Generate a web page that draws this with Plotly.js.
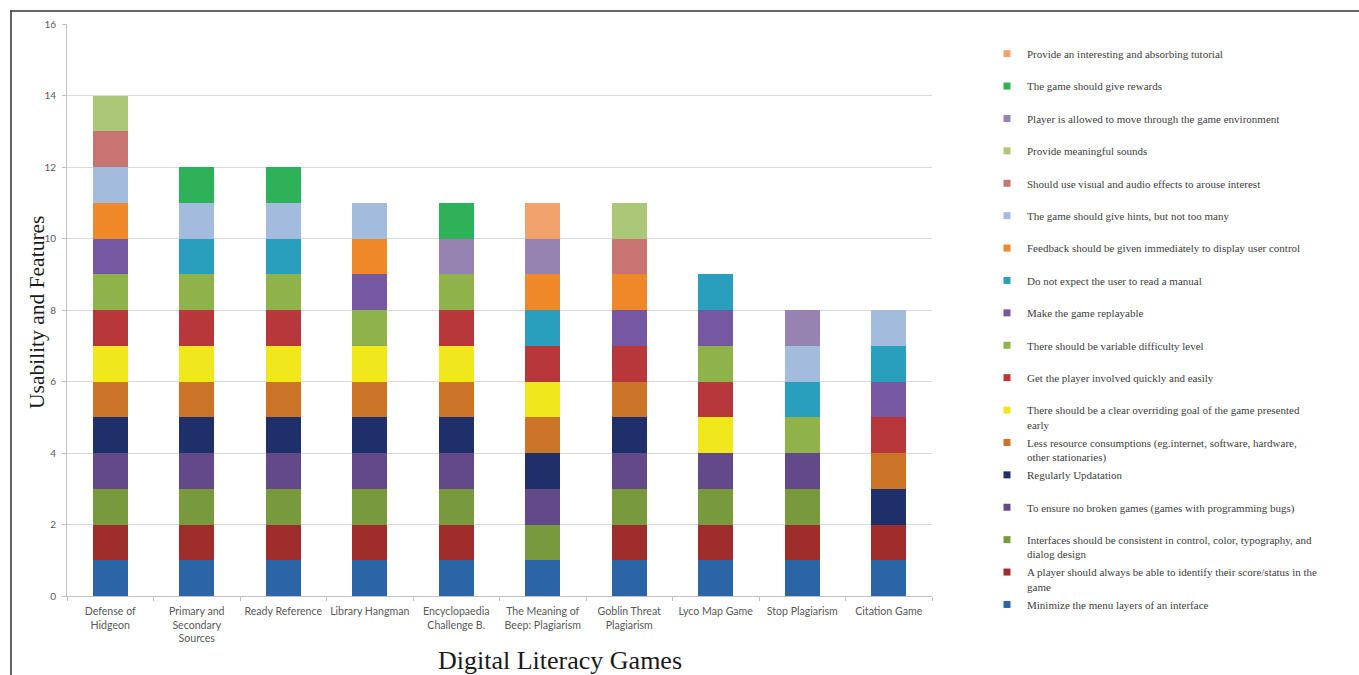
<!DOCTYPE html>
<html>
<head>
<meta charset="utf-8">
<script src="https://cdn.plot.ly/plotly-3.0.1.min.js"></script>
<style>html,body{margin:0;padding:0;background:#fff;}#chart{width:1359px;height:675px;}</style>
</head>
<body>
<div id="chart"></div>
<script>
const games = ["Defense of<br>Hidgeon", "Primary and<br>Secondary<br>Sources", "Ready Reference", "Library Hangman",
  "Encyclopaedia<br>Challenge B.", "The Meaning of<br>Beep: Plagiarism", "Goblin Threat<br>Plagiarism",
  "Lyco Map Game", "Stop Plagiarism", "Citation Game"];

const seriesNames = [
  "Minimize the menu layers of an interface",
  "A player should always be able to identify their score/status in the<br>game",
  "Interfaces should be consistent in control, color, typography, and<br>dialog design",
  "To ensure no broken games (games with programming bugs)",
  "Regularly Updatation",
  "Less resource consumptions (eg.internet, software, hardware,<br>other stationaries)",
  "There should be a clear overriding goal of the game presented<br>early",
  "Get the player involved quickly and easily",
  "There should be variable difficulty level",
  "Make the game replayable",
  "Do not expect the user to read a manual",
  "Feedback should be given immediately to display user control",
  "The game should give hints, but not too many",
  "Should use visual and audio effects to arouse interest",
  "Provide meaningful sounds",
  "Player is allowed to move through the game environment",
  "The game should give rewards",
  "Provide an interesting and absorbing tutorial"
];

const minimizeMenu   = [1,1,1,1,1,1,1,1,1,1];
const scoreStatus    = [1,1,1,1,1,0,1,1,1,1];
const consistentUI   = [1,1,1,1,1,1,1,1,1,0];
const noBrokenGames  = [1,1,1,1,1,1,1,1,1,0];
const regularUpdate  = [1,1,1,1,1,1,1,0,0,1];
const lessResource   = [1,1,1,1,1,1,1,0,0,1];
const clearGoal      = [1,1,1,1,1,1,0,1,0,0];
const quickInvolve   = [1,1,1,0,1,1,1,1,0,1];
const difficulty     = [1,1,1,1,1,0,0,1,1,0];
const replayable     = [1,0,0,1,0,0,1,1,0,1];
const noManual       = [0,1,1,0,0,1,0,1,1,1];
const feedback       = [1,0,0,1,0,1,1,0,0,0];
const hints          = [1,1,1,1,0,0,0,0,1,1];
const visualAudio    = [1,0,0,0,0,0,1,0,0,0];
const sounds         = [1,0,0,0,0,0,1,0,0,0];
const moveFreely     = [0,0,0,0,1,1,0,0,1,0];
const rewards        = [0,1,1,0,1,0,0,0,0,0];
const tutorial       = [0,0,0,0,0,1,0,0,0,0];

const seriesValues = [minimizeMenu, scoreStatus, consistentUI, noBrokenGames, regularUpdate, lessResource,
  clearGoal, quickInvolve, difficulty, replayable, noManual, feedback, hints, visualAudio, sounds,
  moveFreely, rewards, tutorial];

const colors = ["#2B65A5","#9E2D2B","#789A3C","#63488A","#1F2F6A","#CC7428","#F0E81A","#B8373A","#8FB24A",
  "#7658A0","#2A9FBD","#EF8828","#A3BCDE","#C87472","#ABC878","#9683B2","#2DB25A","#F2A36C"];

const traces = [];
seriesValues.forEach((vals, i) => {
  traces.push({
    type: "bar", x: games, y: vals, name: seriesNames[i],
    marker: {color: colors[i], line: {width: 0}},
    showlegend: false
  });
});
// legend entries, listed top (last series) to bottom (first series)
for (let i = seriesValues.length - 1; i >= 0; i--) {
  const nm = seriesNames[i].indexOf("<br>") >= 0 ? seriesNames[i] : seriesNames[i] + "<br>\u00a0";
  traces.push({
    type: "scatter", mode: "markers", x: [null], y: [null], name: nm,
    marker: {color: colors[i], symbol: "square", size: 7},
    showlegend: true, legendgroup: "g" + i, hoverinfo: "skip"
  });
}

const L = 67, R = 932, T = 24, B = 596;
const px = v => (v - L) / (R - L);
const py = v => (B - v) / (B - T);
const serif = "'Liberation Serif', 'Times New Roman', serif";

const layout = {
  width: 1359, height: 675,
  margin: {l: L, r: 1359 - R, t: T, b: 675 - B},
  paper_bgcolor: "#fff", plot_bgcolor: "#fff",
  barmode: "stack", bargap: 0.6,
  font: {family: "Lato, 'Open Sans', sans-serif", color: "#595959", size: 10},
  xaxis: {
    type: "category", categoryorder: "array", categoryarray: games,
    showline: true, linecolor: "#BFBFBF", linewidth: 1,
    ticks: "outside", tickson: "boundaries", ticklen: 4, tickcolor: "#BFBFBF",
    showgrid: false, tickfont: {size: 10.6, color: "#595959"}, ticklabelstandoff: 5, tickangle: 0
  },
  yaxis: {
    range: [0, 16], dtick: 2, tick0: 0,
    showline: true, linecolor: "#BFBFBF", linewidth: 1,
    ticks: "outside", ticklen: 4, tickcolor: "#BFBFBF",
    gridcolor: "#D9D9D9", gridwidth: 1, zeroline: false,
    tickfont: {size: 10, color: "#595959"}, ticklabelstandoff: 4
  },
  legend: {
    x: px(987), xanchor: "left", y: py(40), yanchor: "top",
    traceorder: "grouped", tracegroupgap: 0.8, valign: "top",
    font: {family: serif, size: 11, color: "#404040"},
    bgcolor: "rgba(0,0,0,0)"
  },
  annotations: [{
    text: "Digital Literacy Games", xref: "paper", yref: "paper",
    x: px(560), y: py(661), xanchor: "center", yanchor: "middle", showarrow: false,
    font: {family: serif, size: 26, color: "#1a1a1a"}
  }, {
    text: "Usability and Features", xref: "paper", yref: "paper", textangle: -90,
    x: px(37), y: py(313), xanchor: "center", yanchor: "middle", showarrow: false,
    font: {family: serif, size: 21.5, color: "#1a1a1a"}
  }],
  shapes: [
    {type: "line", xref: "paper", yref: "paper", x0: px(10), x1: px(1359), y0: py(11), y1: py(11), line: {color: "#333", width: 1.5}},
    {type: "line", xref: "paper", yref: "paper", x0: px(11), x1: px(11), y0: py(11), y1: py(676), line: {color: "#333", width: 1.5}}
  ],
  showlegend: true
};

Plotly.newPlot("chart", traces, layout, {displayModeBar: false, staticPlot: true});
</script>
</body>
</html>
